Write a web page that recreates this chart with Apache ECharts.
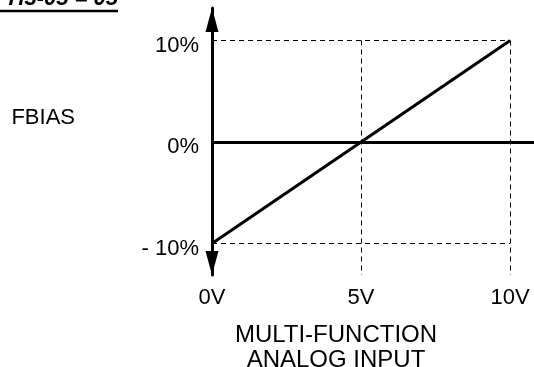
<!DOCTYPE html>
<html>
<head>
<meta charset="utf-8">
<script src="https://cdn.jsdelivr.net/npm/echarts@6/dist/echarts.min.js"></script>
<style>
  html, body { margin: 0; padding: 0; background: #fff; }
  #chart { width: 534px; height: 367px; }
</style>
</head>
<body>
<div id="chart"></div>
<script>
// tick values on both axes
const xTicks = [0, 5, 10];
const yTicks = [-10, 0, 10];
// axis extents (arrows reach past the ±10% guides)
const xMin = 0, xMax = 10.8;
const yMin = -13.1, yMax = 13.2;
// FBIAS vs analog input, straight line
const biasLine = [[0, -10], [10, 10]];
// dashed guide lines
const guideY = [10, -10];
const guideX = [5, 10];

const font = "'Liberation Sans', Arial, sans-serif";
const chart = echarts.init(document.getElementById("chart"));

const dashStyle = { type: [5, 4], width: 1, color: "#000" };
const dashed = [];
guideY.forEach(function (v) {
  dashed.push([{ coord: [xMin, v], lineStyle: dashStyle }, { coord: [10, v] }]);
});
guideX.forEach(function (v) {
  dashed.push([{ coord: [v, 10], lineStyle: dashStyle }, { coord: [v, yMin] }]);
});

chart.setOption({
  animation: false,
  backgroundColor: "#fff",
  title: [
    {
      text: "MULTI-FUNCTION\nANALOG INPUT",
      left: 336,
      top: 323,
      padding: 0,
      textAlign: "center",
      textStyle: { fontFamily: font, fontSize: 24, fontWeight: "normal", color: "#000", lineHeight: 25 }
    }
  ],
  graphic: [
    {
      type: "text",
      right: 534 - 118,
      top: -12,
      style: { text: "H3-05 = 05", font: "italic bold 22px " + font, fill: "#000" }
    },
    {
      type: "line",
      shape: { x1: 0, y1: 11, x2: 118, y2: 11 },
      style: { stroke: "#000", lineWidth: 2.5 }
    },
    {
      type: "text",
      right: 534 - 75,
      top: 107,
      style: { text: "FBIAS", font: "22px " + font, fill: "#000" }
    }
  ],
  grid: { left: 212, right: -2, top: 8, bottom: 92 },
  xAxis: {
    type: "value",
    min: xMin,
    max: xMax,
    position: "bottom",
    axisLine: { show: false, onZero: false },
    axisTick: { show: false },
    splitLine: { show: false },
    axisLabel: {
      customValues: xTicks,
      formatter: "{value}V",
      margin: 12,
      color: "#000",
      fontFamily: font,
      fontSize: 22
    }
  },
  yAxis: {
    type: "value",
    min: yMin,
    max: yMax,
    axisLine: {
      show: true,
      lineStyle: { color: "#000", width: 3 },
      symbol: ["triangle", "triangle"],
      symbolSize: [13, 24],
      symbolOffset: [12, -12]
    },
    axisTick: { show: false },
    splitLine: { show: false },
    axisLabel: {
      customValues: yTicks,
      formatter: function (v) {
        return v < 0 ? "- " + (-v) + "%" : v + "%";
      },
      margin: 13,
      verticalAlign: "top",
      lineHeight: 10,
      color: "#000",
      fontFamily: font,
      fontSize: 22
    }
  },
  series: [
    {
      type: "line",
      data: biasLine,
      showSymbol: false,
      symbol: "none",
      lineStyle: { color: "#000", width: 3 },
      z: 5,
      markLine: {
        silent: true,
        symbol: "none",
        label: { show: false },
        data: [
          { yAxis: 0, lineStyle: { type: "solid", width: 3, color: "#000" } }
        ].concat(dashed),
        lineStyle: dashStyle
      }
    }
  ]
});
</script>
</body>
</html>
